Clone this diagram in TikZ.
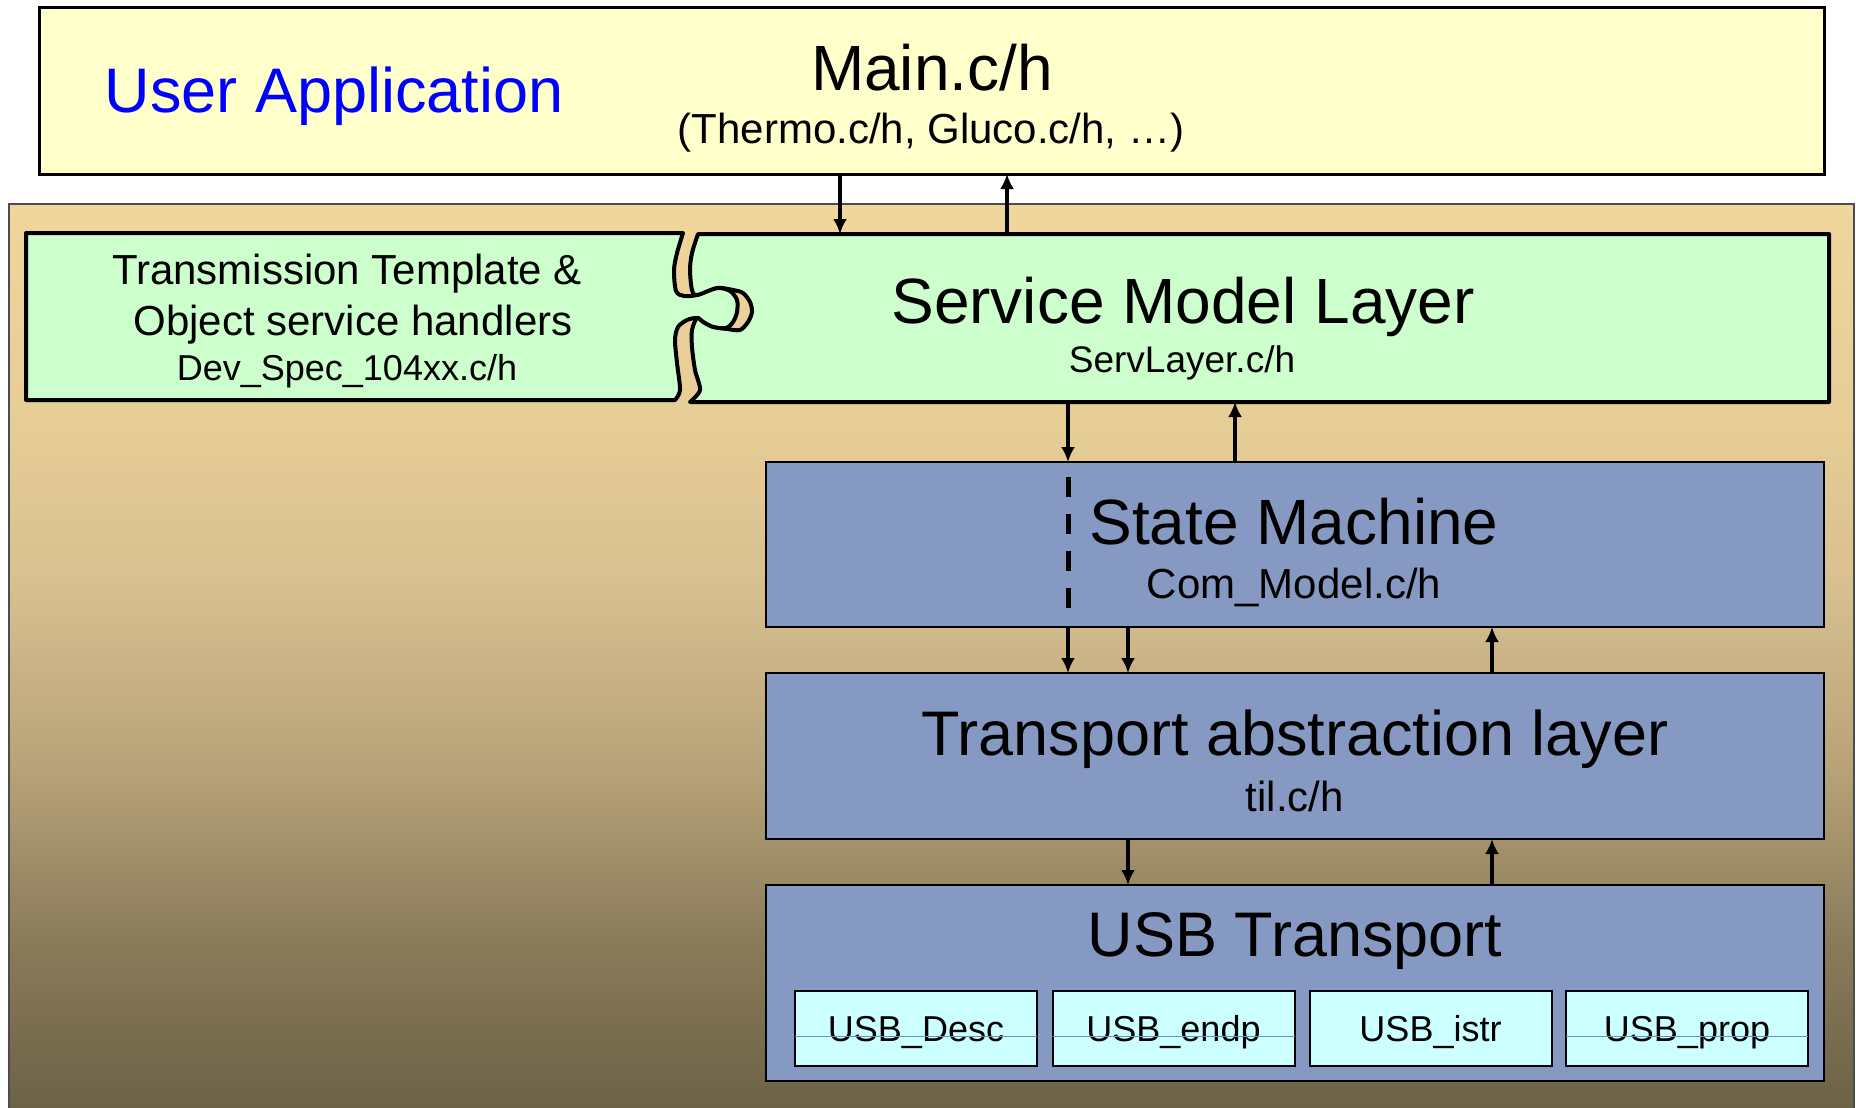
\documentclass[tikz,border=0pt]{standalone}
\usepackage{fontspec}
\setmainfont{Liberation Sans}
\usepackage{xcolor}
\usetikzlibrary{arrows.meta}
\definecolor{app_fill}{RGB}{255,255,204}
\definecolor{piece_fill}{RGB}{204,255,204}
\definecolor{layer_fill}{RGB}{134,153,194}
\definecolor{usb_fill}{RGB}{204,255,255}
\definecolor{seam_color}{RGB}{110,145,185}
\definecolor{tan0}{RGB}{108,98,70}
\definecolor{tan1}{RGB}{138,123,90}
\definecolor{tan2}{RGB}{185,164,122}
\definecolor{tan3}{RGB}{216,192,144}
\definecolor{tan4}{RGB}{230,204,149}
\definecolor{tan5}{RGB}{240,214,156}
\pgfdeclareverticalshading{panelshade}{100bp}{color(0bp)=(tan0); color(25bp)=(tan0);
  color(34.2bp)=(tan1); color(44.2bp)=(tan2); color(54.2bp)=(tan3);
  color(62.5bp)=(tan4); color(75bp)=(tan5); color(100bp)=(tan5)}
\newcommand{\fsz}[1]{\fontsize{#1}{#1}\selectfont}

\begin{document}
\begin{tikzpicture}[
    x=1pt, y=-1pt,
    box/.style={draw, inner sep=0pt, outer sep=0pt},
    piece/.style={fill=piece_fill, draw, line width=4pt, line join=round},
    layer/.style={box, fill=layer_fill, line width=2pt, minimum width=1058pt},
    usbpart/.style={box, fill=usb_fill, line width=2pt, minimum width=242pt,
                    minimum height=75pt, text height=26pt, text depth=0pt,
                    font=\fsz{36}},
    txt/.style={inner sep=0pt, anchor=base},
    arr/.style={line width=4pt, -{Latex[length=15pt,width=14pt]}},
    >=Latex]
    \useasboundingbox (0,0) rectangle (1856,1108);
    % background panel
    \shade[shading=panelshade] (9,204) rectangle (1854,1108);
    \draw[line width=1.5pt, black!70] (9,1108) -- (9,204) -- (1854,204) -- (1854,1108);
    % user application
    \node[box, fill=app_fill, line width=3pt, minimum width=1785pt,
          minimum height=166pt] (app) at (931.5,91) {};
    \node[txt, font=\fsz{63}, text=blue] (appname) at (334,112) {User Application};
    \node[txt, font=\fsz{64}] (main) at (932,91) {Main.c/h};
    \node[txt, font=\fsz{42}] (mainsub) at (931,143) {(Thermo.c/h, Gluco.c/h, …)};
    % puzzle pieces
    \path[piece] (26,233) -- (683,233) -- plot[smooth, tension=0.5] coordinates {
        (683,233) (677,253) (674,270) (676,291) (684,296) (697,295) (717,288)
        (730,291) (737,300) (737,312) (733,322) (726,328) (713,327) (703,322)
        (697,318) (687,320) (678,327) (675,340) (677,363) (680,390) (675,400)}
      -- (26,400) -- cycle;
    \path[piece] plot[smooth, tension=0.5] coordinates {
        (698,234) (692,253) (690,270) (692,290) (697,295) (717,288) (733,290)
        (743,293) (750,302) (752,312) (748,322) (740,330) (727,329) (713,327)
        (703,322) (697,318) (692,330) (692,347) (695,370) (700,390) (690,402)}
      -- (1829,402) -- (1829,234) -- cycle;
    \node[inner sep=0pt, outer sep=0pt, minimum width=1139pt,
          minimum height=168pt] (serv) at (1259.5,318) {};
    \node[txt, font=\fsz{42}] (tmpl) at (347,284) {Transmission Template \&};
    \node[txt, font=\fsz{42}] (handlers) at (353,335) {Object service handlers};
    \node[txt, font=\fsz{36}] (devspec) at (347,380) {Dev\_Spec\_104xx.c/h};
    \node[txt, font=\fsz{64}] (servname) at (1183,323) {Service Model Layer};
    \node[txt, font=\fsz{37}] (servfile) at (1182,372) {ServLayer.c/h};
    % layers
    \node[layer, minimum height=165pt] (state) at (1295,544.5) {};
    \node[layer, minimum height=166pt] (til) at (1295,756) {};
    \node[layer, minimum height=196pt] (usb) at (1295,983) {};
    \node[txt, font=\fsz{64}] (statename) at (1294,544) {State Machine};
    \node[txt, font=\fsz{42}] (statefile) at (1294,598) {Com\_Model.c/h};
    \node[txt, font=\fsz{63}] (tilname) at (1295,755) {Transport abstraction layer};
    \node[txt, font=\fsz{42}] (tilfile) at (1295,811) {til.c/h};
    \node[txt, font=\fsz{63}] (usbname) at (1295,956) {USB Transport};
    \foreach \nm/\cx in {Desc/916, endp/1173.5, istr/1430.5, prop/1687}
      \node[usbpart] (usb-\nm) at (\cx,1028.5) {USB\_\nm};
    \foreach \nm in {Desc, endp, prop}
      \draw[seam_color, line width=0.8pt] ([yshift=-7.5pt]usb-\nm.west)
        -- ([yshift=-7.5pt]usb-\nm.east);
    % connectors
    \coordinate (ca) at (840,0);
    \coordinate (cb) at (1007,0);
    \coordinate (cc) at (1068,0);
    \coordinate (cd) at (1235,0);
    \coordinate (ce) at (1128,0);
    \coordinate (cf) at (1492,0);
    \draw[arr] (app.south -| ca) -- (serv.north -| ca);
    \draw[arr] (serv.north -| cb) -- (app.south -| cb);
    \draw[arr] (serv.south -| cc) -- (state.north -| cc);
    \draw[arr] (state.north -| cd) -- (serv.south -| cd);
    \draw[line width=5pt, dash pattern=on 20pt off 17pt]
      (state.north -| cc) ++(0,15) -- ++(0,133);
    \draw[arr] (state.south -| cc) -- (til.north -| cc);
    \draw[arr] (state.south -| ce) -- (til.north -| ce);
    \draw[arr] (til.north -| cf) -- (state.south -| cf);
    \draw[arr] (til.south -| ce) -- (usb.north -| ce);
    \draw[arr] (usb.north -| cf) -- (til.south -| cf);
\end{tikzpicture}
\end{document}
